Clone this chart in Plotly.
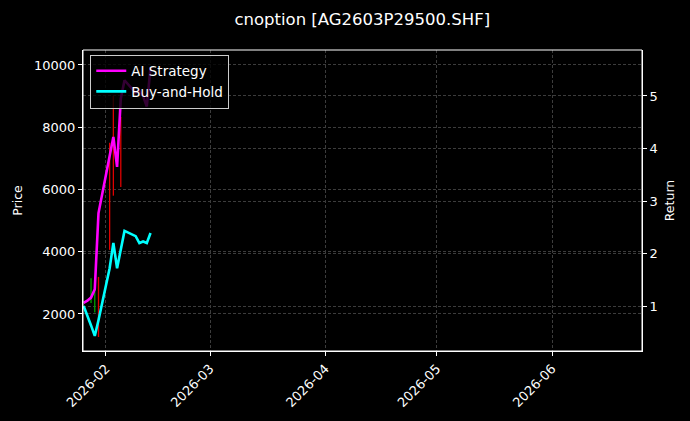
import plotly.graph_objects as go

# ── DATA ────────────────────────────────────────────────────────
dates = ['2026-01-26', '2026-01-27', '2026-01-28', '2026-01-29', '2026-01-30',
         '2026-02-02', '2026-02-03', '2026-02-04', '2026-02-05', '2026-02-06',
         '2026-02-09', '2026-02-10', '2026-02-11', '2026-02-12', '2026-02-13']

ai_strategy  = [1.06, 1.10, 1.16, 1.32, 2.77, 3.88, 4.22, 3.65, 4.95, 5.30,
                5.06, 5.10, 5.00, 4.80, 5.55]
buy_and_hold = [1.00, 0.83, 0.63, 0.43, 0.73, 1.72, 2.20, 1.72, 2.07, 2.43,
                2.33, 2.20, 2.23, 2.20, 2.39]

# price bars that show up on the left axis
bar_dates = ['2026-01-28', '2026-01-29', '2026-01-30', '2026-02-02', '2026-02-03', '2026-02-05']
bar_open  = [2400, 2150, 3000, 7300, 8800, 8200]
bar_high  = [3150, 2800, 3190, 7500, 9000, 8330]
bar_low   = [2350, 2050, 1260, 4060, 5800, 6080]
bar_close = [3050, 2700, 1400, 4200, 6000, 6150]

price_ticks  = [2000, 4000, 6000, 8000, 10000]
return_ticks = [1, 2, 3, 4, 5]
month_ticks  = ['2026-02-01', '2026-03-01', '2026-04-01', '2026-05-01', '2026-06-01']
month_labels = ['2026-02', '2026-03', '2026-04', '2026-05', '2026-06']

FONT = 'DejaVu Sans'
GRID = '#3c3c3c'

fig = go.Figure()

fig.add_trace(go.Ohlc(
    x=bar_dates, open=bar_open, high=bar_high, low=bar_low, close=bar_close,
    increasing=dict(line=dict(color='#00a000', width=1.3)),
    decreasing=dict(line=dict(color='#e00000', width=1.3)),
    tickwidth=0, showlegend=False, hoverinfo='skip'
))

fig.add_trace(go.Scatter(
    x=dates, y=ai_strategy, mode='lines', name='AI Strategy',
    line=dict(color='#ff00ff', width=2.6), yaxis='y2'
))
fig.add_trace(go.Scatter(
    x=dates, y=buy_and_hold, mode='lines', name='Buy-and-Hold',
    line=dict(color='#00ffff', width=2.6), yaxis='y2'
))

axis_common = dict(
    showline=True, linecolor='white', linewidth=1,
    ticks='outside', tickcolor='white', ticklen=4,
    tickfont=dict(family=FONT, size=13, color='white'),
    showgrid=True, gridcolor=GRID, gridwidth=0.6, griddash='3px,2px',
    zeroline=False,
)

fig.update_layout(
    width=690, height=421,
    paper_bgcolor='black', plot_bgcolor='black',
    margin=dict(l=83, r=48, t=50, b=70),
    font=dict(family=FONT, color='white'),
    title=dict(text='cnoption [AG2603P29500.SHF]', x=0.525, xanchor='center',
               y=0.955, yanchor='middle',
               font=dict(family=FONT, size=16.5, color='white')),
    xaxis=dict(**axis_common, type='date',
               range=['2026-01-25 20:00', '2026-06-25 05:00'],
               tickvals=month_ticks, ticktext=month_labels,
               tickangle=-45, rangeslider=dict(visible=False)),
    yaxis=dict(**axis_common, range=[810, 10480],
               tickvals=price_ticks, ticktext=[str(v) for v in price_ticks],
               title=dict(text='Price', font=dict(family=FONT, size=12.5, color='white'),
                          standoff=8)),
    yaxis2=dict(**axis_common, overlaying='y', side='right', range=[0.143, 5.876],
                tickvals=return_ticks, ticktext=[str(v) for v in return_ticks],
                title=dict(text='Return', font=dict(family=FONT, size=12.5, color='white'),
                           standoff=8)),
    legend=dict(x=0.013, y=0.985, xanchor='left', yanchor='top',
                bgcolor='rgba(0,0,0,0.8)', bordercolor='#cccccc', borderwidth=1,
                font=dict(family=FONT, size=13.5, color='white'),
                tracegroupgap=0, itemwidth=30),
    showlegend=True,
)

# box the plot area like the reference spines
fig.add_shape(type='rect', xref='paper', yref='paper', x0=0, y0=0, x1=1, y1=1,
              line=dict(color='white', width=1), layer='above')

fig.write_html('out.html',
               config={'displayModeBar': False},
               post_script="document.body.style.margin='0';"
                           "document.body.style.background='black';")
